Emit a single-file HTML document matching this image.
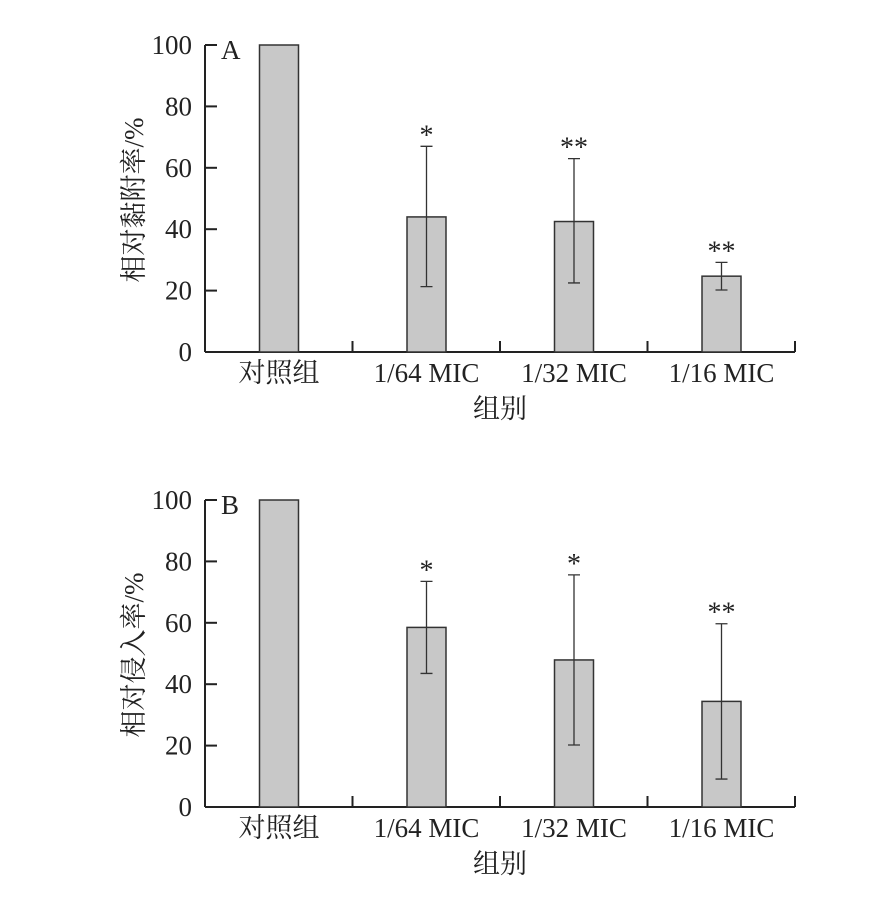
<!DOCTYPE html>
<html><head><meta charset="utf-8"><style>
body{margin:0;background:#fff}
svg text{font-family:"Liberation Serif","Noto Serif CJK SC",serif;fill:#222}
</style></head><body>
<svg width="870" height="902" viewBox="0 0 870 902">
<g id="A"></g>
<g id="B"></g>
</svg>
<script>
const categories=["对照组","1/64 MIC","1/32 MIC","1/16 MIC"];
const yTicks=[0,20,40,60,80,100];
const valuesA=[100,44,42.5,24.7];
const errHiA=[null,67,63,29.2];
const errLoA=[null,21.3,22.5,20.2];
const starsA=["","*","**","**"];
const valuesB=[100,58.5,47.9,34.4];
const errHiB=[null,73.5,75.6,59.7];
const errLoB=[null,43.5,20.2,9.1];
const starsB=["","*","*","**"];
const NS="http://www.w3.org/2000/svg";
function mk(p,t,a){const e=document.createElementNS(NS,t);for(const k in a)e.setAttribute(k,a[k]);p.appendChild(e);return e;}
function draw(g,y0,vals,hi,lo,stars,letter,ytitle){
  const x0=205,x1=795,plotH=307;
  const ys=v=>y0-v/100*plotH;
  const xs=i=>279+i*147.5;
  let e=mk(g,'line',{x1:x0,y1:ys(100),x2:x0,y2:y0,stroke:'#222','stroke-width':2});
  
  
  e=mk(g,'line',{x1:x0,y1:y0,x2:x1,y2:y0,stroke:'#222','stroke-width':2});
  
  
  yTicks.forEach(t=>{
    e=mk(g,'line',{x1:x0,y1:ys(t),x2:x0+12,y2:ys(t),stroke:'#222','stroke-width':2});
    
    
    e=mk(g,'text',{x:192,y:ys(t)+9,'text-anchor':'end','font-size':27});
    e.textContent=t;
    
    
  });
  for(let i=0;i<=4;i++){
    if(i===0)continue;
    const x=205+i*147.5;
    e=mk(g,'line',{x1:x,y1:y0,x2:x,y2:y0-11,stroke:'#222','stroke-width':2});
    
    
  }
  vals.forEach((v,i)=>{
    e=mk(g,'rect',{x:xs(i)-19.5,y:ys(v),width:39,height:y0-ys(v),fill:'#c8c8c8',stroke:'#333','stroke-width':1.5});
    
    
    if(hi[i]!=null){
      e=mk(g,'path',{d:`M${xs(i)} ${ys(hi[i])}V${ys(lo[i])}M${xs(i)-6} ${ys(hi[i])}h12M${xs(i)-6} ${ys(lo[i])}h12`,stroke:'#333','stroke-width':1.3,fill:'none'});
      
      
      e=mk(g,'text',{x:xs(i),y:ys(hi[i])-2,'text-anchor':'middle','font-size':28});
      e.textContent=stars[i];
      
      
    }
    e=mk(g,'text',{x:xs(i),y:y0+30,'text-anchor':'middle','font-size':27});
    e.textContent=categories[i];
    
    
  });
  e=mk(g,'text',{x:221,y:ys(100)+14,'font-size':27});
  e.textContent=letter;
  
  
  e=mk(g,'text',{x:500,y:y0+66,'text-anchor':'middle','font-size':27});
  e.textContent='组别';
  
  
  e=mk(g,'text',{x:0,y:0,'text-anchor':'middle','font-size':27,transform:`translate(143 ${y0-152}) rotate(-90)`});
  e.textContent=ytitle;
  
  
}
draw(document.getElementById('A'),352,valuesA,errHiA,errLoA,starsA,'A','相对黏附率/%');
draw(document.getElementById('B'),807,valuesB,errHiB,errLoB,starsB,'B','相对侵入率/%');
</script>
</body></html>
